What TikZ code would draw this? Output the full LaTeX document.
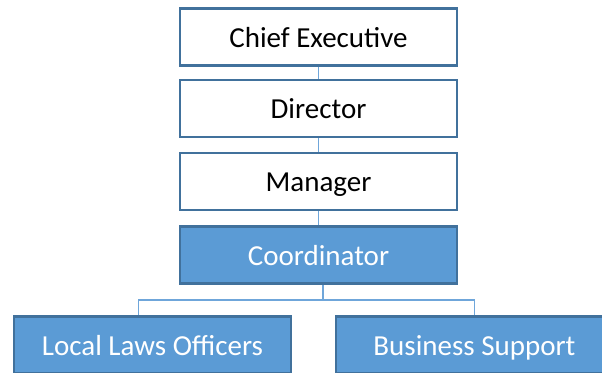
\documentclass[tikz,border=0pt]{standalone}
\usepackage{fontspec}
\setmainfont{Carlito}
\definecolor{bord}{HTML}{41719C}
\definecolor{bfill}{HTML}{5B9BD5}
\definecolor{conn}{HTML}{6FA6DA}
\begin{document}
\begin{tikzpicture}[x=1pt,y=-1pt,
  box/.style={draw=bord,line width=2.6pt,minimum width=277pt,minimum height=57pt,inner sep=0pt,
    text height=20pt,text depth=0pt,font=\fontsize{29}{34}\selectfont},
  wbox/.style={box,fill=white,text=black},
  bbox/.style={box,fill=bfill,text=white},
  link/.style={draw=conn,line width=1.5pt}]
\useasboundingbox (0,0) rectangle (602,372);
\clip (0,0) rectangle (602,372);
\fill[white] (0,0) rectangle (602,372);
\node[wbox] (chief) at (318.5,37) {Chief Executive};
\node[wbox] (dir) at (318.5,108.5) {Director};
\node[wbox] (man) at (318.5,181.5) {Manager};
\node[bbox] (coord) at (318.5,255) {Coordinator};
\node[bbox] (left) at (152.5,345) {Local Laws Officers};
\node[bbox] (right) at (474.5,345) {Business Support};
\coordinate (bus) at (323,300);
\coordinate (jl) at (138.3,300);
\coordinate (jr) at (474.5,300);
\draw[link] (chief.south) -- (dir.north);
\draw[link] (dir.south) -- (man.north);
\draw[link] (man.south) -- (coord.north);
\draw[link] (coord.south -| bus) -- (bus);
\draw[link] (jl |- left.north) -- (jl) -- (jr) -- (right.north);
\end{tikzpicture}
\end{document}
